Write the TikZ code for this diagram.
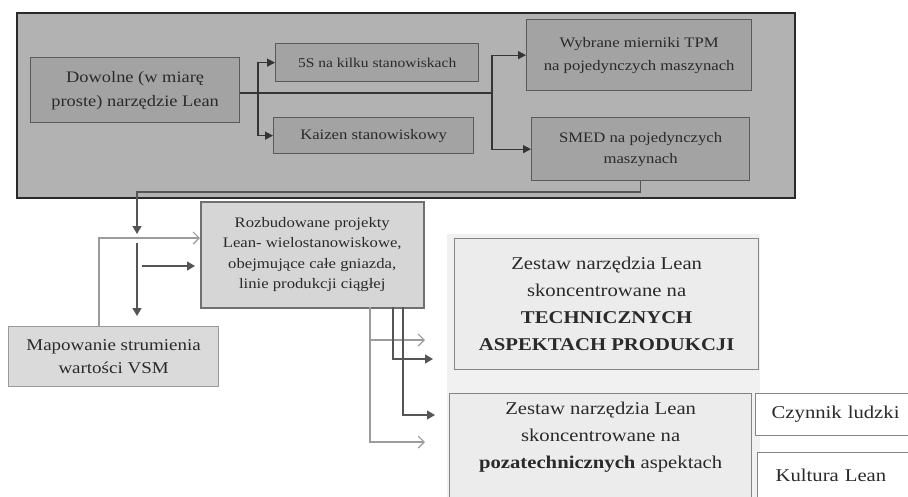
\documentclass[tikz,border=0pt]{standalone}
\usepackage{fontspec}
\setmainfont{Liberation Serif}[FakeStretch=1.15]
\usetikzlibrary{arrows.meta,calc}

\definecolor{outerfill}{HTML}{B2B2B2}
\definecolor{outerline}{HTML}{2A2A2A}
\definecolor{innerfill}{HTML}{A3A3A3}
\definecolor{innerline}{HTML}{5A5A5A}
\definecolor{midfill}{HTML}{D6D6D6}
\definecolor{midline}{HTML}{707070}
\definecolor{vsmfill}{HTML}{DADADA}
\definecolor{vsmline}{HTML}{9A9A9A}
\definecolor{zonefill}{HTML}{F1F1F1}
\definecolor{setfill}{HTML}{ECECEC}
\definecolor{setline}{HTML}{858585}
\definecolor{darkarrow}{HTML}{555555}
\definecolor{toparrow}{HTML}{353535}
\definecolor{lightarrow}{HTML}{9C9C9C}
\definecolor{txt}{HTML}{2A2A2A}

\begin{document}
\begin{tikzpicture}[x=1pt,y=-1pt,
  box/.style={rectangle, inner sep=0pt, align=center, anchor=north west, text=txt},
  outerbox/.style={box, fill=outerfill, draw=outerline, line width=2.2pt},
  topbox/.style={box, fill=innerfill, draw=innerline, line width=1.3pt,
    font=\fontsize{14.5}{23}\selectfont},
  midbox/.style={box, fill=midfill, draw=midline, line width=1.5pt,
    font=\fontsize{14.5}{20.5}\selectfont},
  vsmbox/.style={box, fill=vsmfill, draw=vsmline, line width=1.2pt,
    font=\fontsize{16.5}{23}\selectfont},
  setbox/.style={box, fill=setfill, draw=setline, line width=1.3pt,
    font=\fontsize{18}{27}\selectfont},
  sidebox/.style={box, fill=white, draw=setline, line width=1.3pt,
    font=\fontsize{18}{27}\selectfont},
  tline/.style={draw=toparrow, line width=1.3pt},
  tarr/.style={tline, -{Triangle[length=8pt,width=8pt]}},
  darr/.style={draw=darkarrow, line width=1.3pt, -{Triangle[length=8pt,width=9pt]}},
  larr/.style={draw=lightarrow, line width=1.2pt, -{Straight Barb[length=6pt,width=12pt]}}
]
\useasboundingbox (0,0) rectangle (908,496);
\clip (0,0) rectangle (908,496);

% light zone behind the two tool sets
\fill[zonefill] (447,234) rectangle (760,500);

% outer frame with the simple tools
\node[outerbox, minimum width=778pt, minimum height=185pt] (frame) at (16,12) {};

\node[topbox, minimum width=209pt, minimum height=65pt, font=\fontsize{16}{24}\selectfont] (dow) at (30,57)
  {Dowolne (w miarę\\proste) narzędzie Lean};
\node[topbox, minimum width=203pt, minimum height=38pt, font=\fontsize{13.5}{20}\selectfont] (s5) at (275,43)
  {5S na kilku stanowiskach};
\node[topbox, minimum width=200pt, minimum height=36pt] (kai) at (273,117)
  {Kaizen stanowiskowy};
\node[topbox, minimum width=225pt, minimum height=71pt] (tpm) at (526,19)
  {Wybrane mierniki TPM\\na pojedynczych maszynach};
\node[topbox, minimum width=218pt, minimum height=63pt, font=\fontsize{14.5}{21}\selectfont] (smed) at (531,117)
  {SMED na pojedynczych\\maszynach};

% extended projects and value stream mapping
\node[midbox, minimum width=223pt, minimum height=106pt] (roz) at (200,201)
  {Rozbudowane projekty\\Lean- wielostanowiskowe,\\obejmujące całe gniazda,\\linie produkcji ciągłej};
\node[vsmbox, minimum width=210pt, minimum height=60pt] (vsm) at (8,326)
  {Mapowanie strumienia\\wartości VSM};

% tool sets
\node[setbox, minimum width=304pt, minimum height=131pt] (tech) at (454,238)
  {Zestaw narzędzia Lean\\skoncentrowane na\\\textbf{TECHNICZNYCH}\\\textbf{ASPEKTACH PRODUKCJI}};
\node[setbox, minimum width=302pt, minimum height=130pt] (poza) at (449,393) {};
\node[box, anchor=north, font=\fontsize{18}{27}\selectfont] (pozatxt) at ([yshift=-9pt]poza.north)
  {Zestaw narzędzia Lean\\skoncentrowane na\\\textbf{pozatechnicznych} aspektach};
\node[sidebox, minimum width=170pt, minimum height=42pt, text width=150pt, align=left] (czyn) at (755,393)
  {\hspace*{6pt}Czynnik ludzki};
\node[sidebox, minimum width=170pt, minimum height=46pt, text width=150pt, align=left] (kult) at (757,452)
  {\hspace*{8pt}Kultura Lean};

% connectors inside the frame
\coordinate (b1) at (258,93);
\coordinate (b2) at (492,93);
\draw[tline] (dow.east |- b1) -- (b2);
\draw[tarr] (b1) |- (s5.west);
\draw[tarr] (b1) |- (kai.west);
\draw[tarr] (b2) |- (tpm.west);
\draw[tarr] (b2) |- (smed.west);

% from the frame down towards the extended projects
\coordinate (c1) at (137,192);
\coordinate (c2) at (137,234);
\coordinate (c3) at (137,243);
\coordinate (c4) at (137,316);
\coordinate (h1) at (142,266);
\coordinate (h2) at (195,266);
\draw[darr] (smed.south) |- (c1) -- (c2);
\draw[darr] (c3) -- (c4);
\draw[darr] (h1) -- (h2);

% value stream mapping feeding the projects
\coordinate (v0) at (99,326);
\coordinate (v1) at (99,238);
\draw[larr] (v0) -- (v1) -- (roz.west |- v1);

% from the projects to the tool sets
\coordinate (r1) at (370,307);
\coordinate (r2) at (393,307);
\coordinate (r3) at (403,307);
\coordinate (e1) at (425,340);
\coordinate (e2) at (433,359);
\coordinate (e3) at (435,415);
\coordinate (e4) at (425,442);
\draw[larr] (r1) |- (e1);
\draw[larr] (r1) |- (e4);
\draw[darr] (r2) |- (e2);
\draw[darr] (r3) |- (e3);
\end{tikzpicture}
\end{document}
